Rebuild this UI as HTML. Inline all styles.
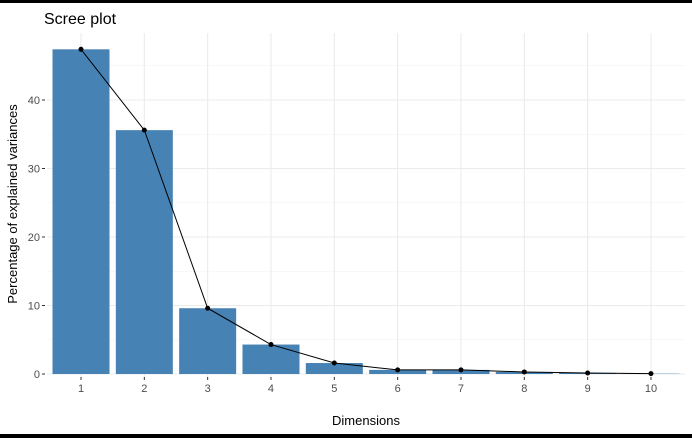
<!DOCTYPE html>
<html><head><meta charset="utf-8"><style>
body{margin:0;background:#fff}
svg text{font-family:"Liberation Sans",sans-serif}
</style></head><body>
<svg width="692" height="438" xmlns="http://www.w3.org/2000/svg">
<rect x="0" y="0" width="692" height="3" fill="#000"/>
<rect x="0" y="434" width="692" height="4" fill="#000"/>
<text x="44" y="24" font-size="16" fill="#000">Scree plot</text>
<g id="grid"></g>
<g id="bars"></g>
<g id="line"></g>
<g id="axes"></g>
<text x="366" y="425" font-size="13" text-anchor="middle" fill="#000">Dimensions</text>
<text transform="translate(17,204) rotate(-90)" font-size="13" text-anchor="middle" fill="#000">Percentage of explained variances</text>
</svg>
<script>
const categories=["1","2","3","4","5","6","7","8","9","10"];
const values=[47.4,35.6,9.6,4.3,1.6,0.6,0.6,0.3,0.15,0.05];
const yTicks=[0,10,20,30,40];
const NS="http://www.w3.org/2000/svg";
const x0=81,step=63.33,yBase=374,ppu=6.85,panelL=47,panelR=685,panelT=33;
const xs=i=>x0+i*step, ys=v=>yBase-v*ppu;
function mk(t,a,p){const e=document.createElementNS(NS,t);for(const k in a)e.setAttribute(k,a[k]);document.getElementById(p).appendChild(e);return e;}
for(let v=5;v<50;v+=10){const e=mk('line',{x1:panelL,x2:panelR,y1:ys(v),y2:ys(v),stroke:'#f2f2f2','stroke-width':0.6},'grid');

}
yTicks.forEach(v=>{const e=mk('line',{x1:panelL,x2:panelR,y1:ys(v),y2:ys(v),stroke:'#ebebeb','stroke-width':1.1},'grid');


const t=mk('text',{x:40,y:ys(v)+4,'font-size':11,'text-anchor':'end',fill:'#4d4d4d'},'axes');t.textContent=v;


const tk=mk('line',{x1:42,x2:45,y1:ys(v),y2:ys(v),stroke:'#333'},'axes');

});
categories.forEach((c,i)=>{const g=mk('line',{x1:xs(i),x2:xs(i),y1:panelT,y2:yBase+3,stroke:'#ebebeb','stroke-width':1.1},'grid');


const b=mk('rect',{x:xs(i)-28.5,y:ys(values[i]),width:57,height:values[i]*ppu,fill:'#4682b4'},'bars');


const tk=mk('line',{x1:xs(i),x2:xs(i),y1:377,y2:380,stroke:'#333'},'axes');


const t=mk('text',{x:xs(i),y:392,'font-size':11,'text-anchor':'middle',fill:'#4d4d4d'},'axes');t.textContent=c;

});
const pl=mk('polyline',{points:values.map((v,i)=>xs(i)+','+ys(v)).join(' '),fill:'none',stroke:'#000','stroke-width':1},'line');


values.forEach((v,i)=>{const p=mk('circle',{cx:xs(i),cy:ys(v),r:2.5,fill:'#000'},'line');

});
</script>
</body></html>
